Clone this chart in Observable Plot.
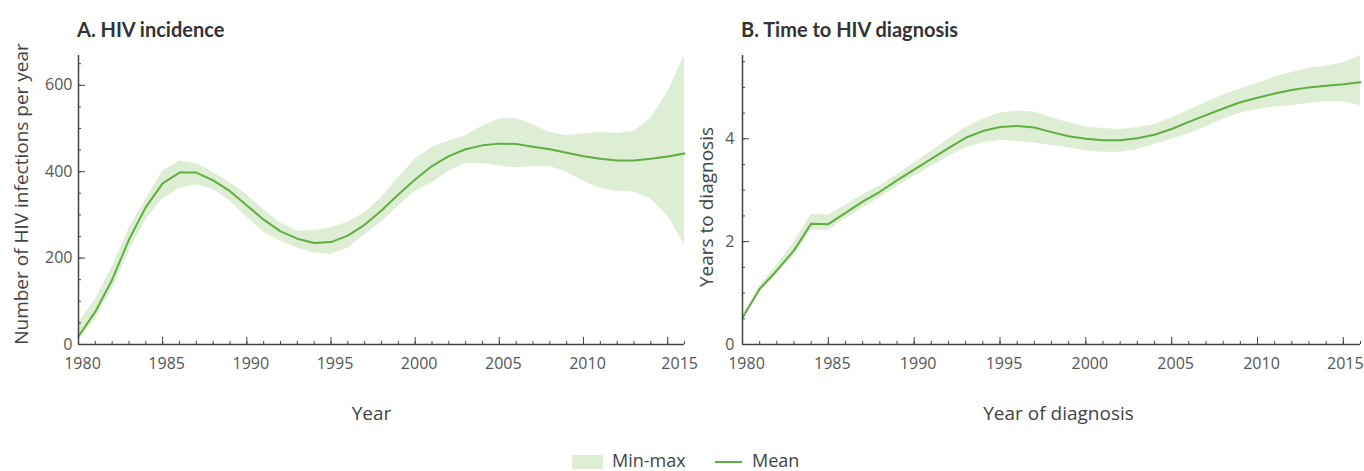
<!DOCTYPE html>
<html><head><meta charset="utf-8">
<script src="https://cdn.jsdelivr.net/npm/d3@7"></script>
<script src="https://cdn.jsdelivr.net/npm/@observablehq/plot@0.6"></script>
<style>
body{margin:0;background:#fff;width:1364px;height:471px;position:relative;overflow:hidden;font-family:"Open Sans",sans-serif;color:#444}
.title{position:absolute;font-family:Lato,sans-serif;font-weight:700;font-size:20px;line-height:24px;color:#333;top:17px;white-space:nowrap}
#a{position:absolute;left:0;top:40px}
#b{position:absolute;left:680px;top:40px}
.lg{position:absolute;font-size:18px;line-height:18px;color:#444;top:451px;white-space:nowrap}
.sw{position:absolute;left:572px;top:455px;width:31px;height:14px;background:#deeed4}
.ln{position:absolute;left:715px;top:461px;width:27px;height:2px;background:#5fae3f}
</style></head>
<body>
<div class="title" style="left:77px">A. HIV incidence</div>
<div class="title" style="left:741px">B. Time to HIV diagnosis</div>
<div id="a"></div>
<div id="b"></div>
<div class="sw"></div><div class="lg" style="left:612px">Min-max</div>
<div class="ln"></div><div class="lg" style="left:752px">Mean</div>
<script>
const years = [1980,1981,1982,1983,1984,1985,1986,1987,1988,1989,1990,1991,1992,1993,1994,1995,1996,1997,1998,1999,2000,2001,2002,2003,2004,2005,2006,2007,2008,2009,2010,2011,2012,2013,2014,2015,2016];
const xMajorTicks = [1980,1985,1990,1995,2000,2005,2010,2015];

const incidenceMean = [19,76,150,243,318,373,398,398,380,355,322,289,262,245,235,237,252,277,310,347,382,413,436,452,461,465,464,458,452,444,436,430,426,426,430,435,442];
const incidenceMin  = [8,60,128,215,289,337,361,370,359,332,295,260,239,223,212,209,223,254,283,320,355,374,401,419,419,413,409,412,412,398,378,361,355,353,337,297,231];
const incidenceMax  = [50,105,180,268,336,401,425,419,398,374,347,312,281,263,264,270,283,305,340,386,429,456,471,483,506,522,523,508,491,484,488,491,489,493,523,584,669];
const incidenceYMajor = [0,200,400,600];
const incidenceYMinor = [0,50,100,150,200,250,300,350,400,450,500,550,600,650];

const diagMean = [0.52,1.08,1.44,1.83,2.35,2.34,2.56,2.78,2.97,3.19,3.40,3.61,3.82,4.02,4.15,4.23,4.25,4.22,4.13,4.05,4.00,3.97,3.97,4.01,4.08,4.19,4.33,4.46,4.59,4.71,4.80,4.88,4.95,5.00,5.03,5.06,5.10];
const diagMin  = [0.48,1.01,1.37,1.73,2.22,2.22,2.45,2.65,2.86,3.07,3.27,3.46,3.66,3.82,3.92,3.97,3.95,3.92,3.87,3.82,3.77,3.74,3.74,3.79,3.89,3.99,4.10,4.23,4.38,4.50,4.57,4.62,4.65,4.69,4.72,4.72,4.65];
const diagMax  = [0.56,1.14,1.54,1.99,2.53,2.52,2.71,2.91,3.08,3.30,3.53,3.76,3.99,4.22,4.38,4.50,4.54,4.52,4.41,4.31,4.23,4.20,4.18,4.22,4.28,4.41,4.55,4.71,4.85,4.97,5.08,5.20,5.29,5.37,5.41,5.48,5.62];
const diagYMajor = [0,2,4];
const diagYMinor = [0,0.5,1,1.5,2,2.5,3,3.5,4,4.5,5,5.5];

const BAND = "#deeed4", LINE = "#5fae3f", AXIS = "#444", TXT = "#555";

function panel({mean, min, max, yMajor, yMinor, width, marginLeft, marginRight, xLabel, yLabel, xLabelDx, yLabelDx, yLabelDy, yPad, lastDx}) {
  const data = years.map((year, i) => ({year, mean: mean[i], min: min[i], max: max[i]}));
  const lastTick = xMajorTicks[xMajorTicks.length - 1];
  return Plot.plot({
    width, height: 390, marginLeft, marginRight, marginTop: 15, marginBottom: 86,
    style: {fontFamily: "Open Sans, sans-serif", fontSize: "16px", color: TXT, background: "transparent", overflow: "visible"},
    x: {domain: [years[0], years[years.length - 1]]},
    y: {domain: [0, d3.max(max)]},
    marks: [
      Plot.areaY(data, {x: "year", y1: "min", y2: "max", fill: BAND}),
      Plot.lineY(data, {x: "year", y: "mean", stroke: LINE, strokeWidth: 2}),
      Plot.axisX({ticks: years, tickSize: -3, tickFormat: () => "", label: null, stroke: AXIS}),
      Plot.axisX({ticks: xMajorTicks, tickSize: -7, tickFormat: () => "", label: null, stroke: AXIS}),
      Plot.axisX({ticks: xMajorTicks.slice(0, -1), tickSize: 0, tickPadding: 13, dx: 4, tickFormat: d => String(d), label: null, fill: TXT}),
      Plot.axisX({ticks: [lastTick], tickSize: 0, tickPadding: 13, dx: lastDx, tickFormat: d => String(d), label: null, fill: TXT}),
      Plot.axisY({ticks: yMinor, tickSize: -3, tickFormat: () => "", label: null, stroke: AXIS}),
      Plot.axisY({ticks: yMajor, tickSize: -7, tickFormat: () => "", label: null, stroke: AXIS}),
      Plot.axisY({ticks: yMajor, tickSize: 0, tickPadding: yPad, tickFormat: d => String(d), label: null, fill: TXT}),
      Plot.ruleY([0], {stroke: AXIS, strokeWidth: 1.5}),
      Plot.ruleX([years[0]], {stroke: AXIS, strokeWidth: 1.5}),
      Plot.text([xLabel], {frameAnchor: "bottom", lineAnchor: "middle", dy: 69, dx: xLabelDx, fontSize: 19, fill: "#444"}),
      Plot.text([yLabel], {frameAnchor: "left", textAnchor: "middle", lineAnchor: "middle", dx: yLabelDx, dy: yLabelDy, rotate: -90, fontSize: 19, fill: "#444"})
    ]
  });
}

document.getElementById("a").append(panel({
  mean: incidenceMean, min: incidenceMin, max: incidenceMax, yMajor: incidenceYMajor, yMinor: incidenceYMinor,
  width: 700, marginLeft: 78, marginRight: 16, xLabel: "Year", yLabel: "Number of HIV infections per year",
  xLabelDx: -10, yLabelDx: -57, yLabelDy: -6, yPad: 6, lastDx: 12
}));
document.getElementById("b").append(panel({
  mean: diagMean, min: diagMin, max: diagMax, yMajor: diagYMajor, yMinor: diagYMinor,
  width: 684, marginLeft: 62, marginRight: 4, xLabel: "Year of diagnosis", yLabel: "Years to diagnosis",
  xLabelDx: 7, yLabelDx: -36, yLabelDy: 7, yPad: 8, lastDx: 2
}));
</script>
</body></html>
